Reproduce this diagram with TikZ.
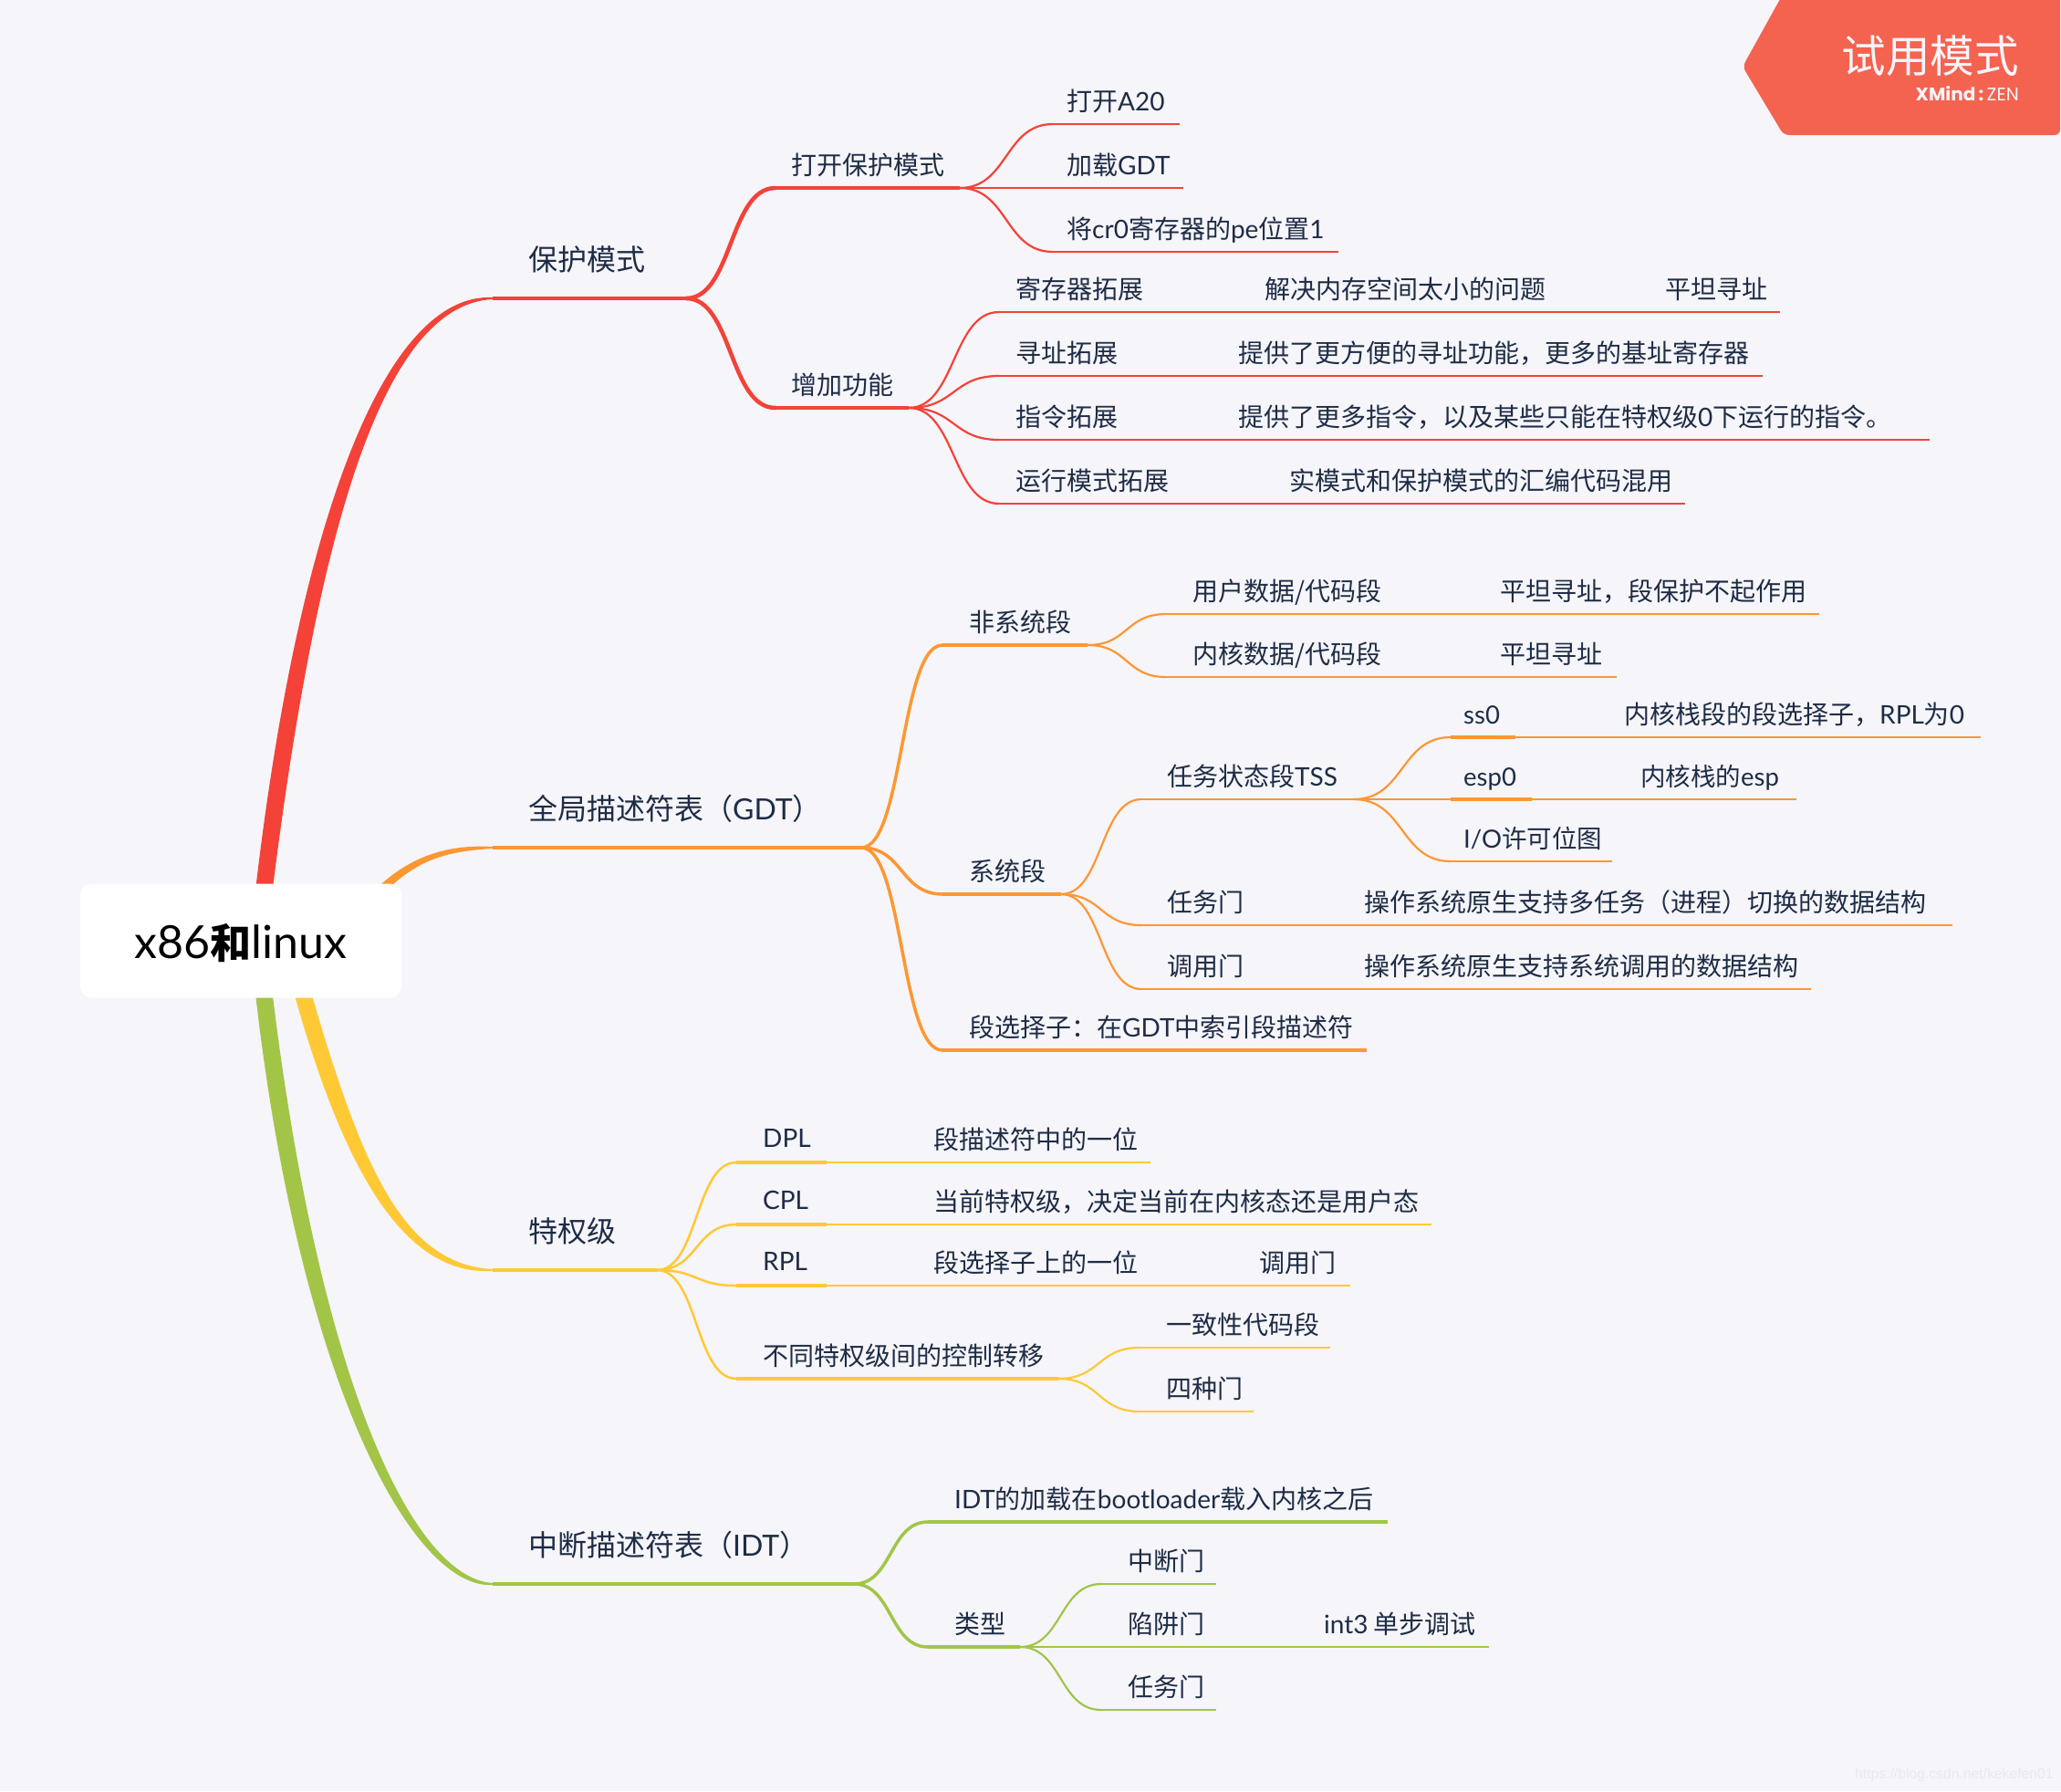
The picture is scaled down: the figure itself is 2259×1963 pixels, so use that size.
\documentclass[tikz,border=0pt]{standalone}
\usepackage{fontspec}
\usetikzlibrary{calc}
\setmainfont{Noto Sans CJK SC}
\newfontfamily\latf{Lato}
\newfontfamily\popf{Poppins}
\newfontfamily\wmf{Liberation Sans}
\newcommand{\lx}[1]{{\latf #1}}
\definecolor{bg}{HTML}{F5F5FA}
\definecolor{ink}{HTML}{1E2C45}
\definecolor{cred}{HTML}{F44238}
\definecolor{corg}{HTML}{FD9732}
\definecolor{cyel}{HTML}{FFC936}
\definecolor{cgrn}{HTML}{A2C547}
\definecolor{badge}{HTML}{F46350}
\definecolor{wm}{HTML}{E9E9EF}
\newcommand{\fs}[1]{\fontsize{#1pt}{#1pt}\selectfont}
\tikzset{
  lone/.style={anchor=base west,inner sep=0pt,text=ink,font=\fs{32},yshift=30.5pt},
  ltwo/.style={anchor=base west,inner sep=0pt,text=ink,font=\fs{28},yshift=14.5pt},
  lfive/.style={anchor=base west,inner sep=0pt,text=ink,font=\fs{27.5},yshift=14.5pt},
  lcap/.style={anchor=base west,inner sep=0pt,text=ink,font=\fs{28},yshift=16.5pt},
}
\newcommand{\seg}[6]{%
  \coordinate (#1-a) at (#4,#6);\coordinate (#1-b) at (#5,#6);
  \draw[#2,line width=#3pt] (#1-a) -- (#1-b);}
\newcommand{\lab}[5]{\node[#2] (#1) at (#3,#4) {#5};}
\newcommand{\conn}[4]{%
  \draw[#3,line width=#4pt] let \p1=(#1-b),\p2=(#2-a),\n1={0.52*(\x2-\x1)} in
    (#1-b) .. controls +(\n1,0) and +(-\n1,0) .. (#2-a);}
% tapered main branch: name, colour, x0, y0, c1x, c1y, c2x, w, sign (+1 rising, -1 falling)
\newcommand{\mainb}[9]{%
  \coordinate (#1-s) at (#3,#4);
  \fill[#2] let \p1=(#1-a) in
    ($(#1-s)+(-#8/2,0)$) .. controls ($(#5,#6)+(-#8/1.5,0)$) and ($(#7,\y1)+(0,#9*#8*0.38pt)$) .. ($(#1-a)+(0,#9*1pt)$)
    -- ($(#1-a)+(0,-#9*1pt)$) .. controls ($(#7,\y1)+(0,-#9*#8*0.38pt)$) and ($(#5,#6)+(#8/1.5,0)$) .. ($(#1-s)+(#8/2,0)$) -- cycle;}
\begin{document}
\begin{tikzpicture}[x=1pt,y=-1pt]
\useasboundingbox (0,0) rectangle (2259,1963);
\fill[bg] (0,0) rectangle (2259,1963);

% ---- first level segments
\seg{A}{cred}{4}{540}{752}{327}
\seg{B}{corg}{4}{540}{944}{929}
\seg{C}{cyel}{4}{540}{720}{1392}
\seg{D}{cgrn}{4}{540}{936}{1736}

\mainb{A}{cred}{283}{1031}{330}{600}{415}{18}{1}
\mainb{B}{corg}{395}{1000}{440}{945}{480}{12}{1}
\mainb{C}{cyel}{316}{1031}{378}{1265}{435}{18}{-1}
\mainb{D}{cgrn}{283}{1031}{330}{1500}{450}{18}{-1}

\lab{tA}{lone}{579}{327}{保护模式}
\lab{tB}{lone}{579}{929}{全局描述符表（\lx{GDT}）}
\lab{tC}{lone}{579}{1392}{特权级}
\lab{tD}{lone}{579}{1736}{中断描述符表（\lx{IDT}）}

% ---- red
\seg{A1}{cred}{4.5}{850}{1052}{206}
\seg{A2}{cred}{4.5}{850}{996}{447}
\conn{A}{A1}{cred}{4.5}\conn{A}{A2}{cred}{4.5}
\lab{tA1}{ltwo}{867}{206}{打开保护模式}
\lab{tA2}{ltwo}{867}{447}{增加功能}
\seg{A11}{cred}{2.2}{1154}{1293}{136}
\seg{A12}{cred}{2.2}{1062}{1297}{206}
\seg{A13}{cred}{2.2}{1154}{1467}{276}
\conn{A1}{A11}{cred}{2.2}\conn{A1}{A13}{cred}{2.2}
\draw[cred,line width=2.2pt] (A1-b) -- (A12-a);
\lab{tA11}{ltwo}{1169}{136}{打开\lx{A20}}
\lab{tA12}{ltwo}{1169}{206}{加载\lx{GDT}}
\lab{tA13}{ltwo}{1169}{276}{将\lx{cr0}寄存器的\lx{pe}位置\lx{1}}
\seg{A21}{cred}{2.2}{1095}{1951}{342}
\seg{A22}{cred}{2.2}{1095}{1932}{412}
\seg{A23}{cred}{2.2}{1095}{2115}{482}
\seg{A24}{cred}{2.2}{1095}{1847}{552}
\conn{A2}{A21}{cred}{2.2}\conn{A2}{A22}{cred}{2.2}\conn{A2}{A23}{cred}{2.2}\conn{A2}{A24}{cred}{2.2}
\lab{tA21}{ltwo}{1113}{342}{寄存器拓展}
\lab{tA22}{ltwo}{1113}{412}{寻址拓展}
\lab{tA23}{ltwo}{1113}{482}{指令拓展}
\lab{tA24}{ltwo}{1113}{552}{运行模式拓展}
\lab{tA211}{ltwo}{1386}{342}{解决内存空间太小的问题}
\lab{tA212}{ltwo}{1825}{342}{平坦寻址}
\lab{tA221}{ltwo}{1357}{412}{提供了更方便的寻址功能，更多的基址寄存器}
\lab{tA231}{ltwo}{1357}{482}{提供了更多指令，以及某些只能在特权级\lx{0}下运行的指令。}
\lab{tA241}{ltwo}{1413}{552}{实模式和保护模式的汇编代码混用}

% ---- orange
\seg{B1}{corg}{4}{1033}{1192}{707}
\seg{B2}{corg}{4}{1033}{1163}{980}
\seg{B3}{corg}{4.5}{1033}{1498}{1151}
\conn{B}{B1}{corg}{3.5}\conn{B}{B2}{corg}{3.5}\conn{B}{B3}{corg}{3.5}
\lab{tB1}{ltwo}{1062}{707}{非系统段}
\lab{tB2}{ltwo}{1062}{980}{系统段}
\lab{tB3}{ltwo}{1062}{1151}{段选择子：在\lx{GDT}中索引段描述符}
\seg{B11}{corg}{2.2}{1278}{1994}{673}
\seg{B12}{corg}{2.2}{1278}{1772}{742}
\conn{B1}{B11}{corg}{2.2}\conn{B1}{B12}{corg}{2.2}
\lab{tB11}{ltwo}{1307}{673}{用户数据/代码段}
\lab{tB12}{ltwo}{1307}{742}{内核数据/代码段}
\lab{tB111}{ltwo}{1644}{673}{平坦寻址，段保护不起作用}
\lab{tB121}{ltwo}{1644}{742}{平坦寻址}
\seg{B21}{corg}{2.5}{1251}{1484}{876}
\seg{B22}{corg}{2.2}{1251}{2140}{1014}
\seg{B23}{corg}{2.2}{1251}{1985}{1084}
\conn{B2}{B21}{corg}{2.2}\conn{B2}{B22}{corg}{2.2}\conn{B2}{B23}{corg}{2.2}
\lab{tB21}{ltwo}{1279}{876}{任务状态段\lx{TSS}}
\lab{tB22}{ltwo}{1279}{1014}{任务门}
\lab{tB23}{ltwo}{1279}{1084}{调用门}
\lab{tB221}{ltwo}{1495}{1014}{操作系统原生支持多任务（进程）切换的数据结构}
\lab{tB231}{ltwo}{1495}{1084}{操作系统原生支持系统调用的数据结构}
\seg{B211}{corg}{3.5}{1590}{1661}{808}
\seg{B212}{corg}{3.5}{1590}{1679}{876}
\seg{B213}{corg}{2.2}{1590}{1767}{944}
\conn{B21}{B211}{corg}{2.2}\conn{B21}{B213}{corg}{2.2}
\draw[corg,line width=2.2pt] (B21-b) -- (B212-a);
\seg{B2111}{corg}{2.2}{1661}{2171}{808}
\seg{B2121}{corg}{2.2}{1679}{1969}{876}
\lab{tB211}{lfive}{1604}{808}{\lx{ss0}}
\lab{tB212}{lfive}{1604}{876}{\lx{esp0}}
\lab{tB213}{lfive}{1604}{944}{\lx{I/O}许可位图}
\lab{tB2111}{ltwo}{1780}{808}{内核栈段的段选择子，\lx{RPL}为\lx{0}}
\lab{tB2121}{lfive}{1798}{876}{内核栈的\lx{esp}}

% ---- yellow
\seg{C1}{cyel}{3.5}{807}{906}{1274}
\seg{C2}{cyel}{3.5}{807}{906}{1342}
\seg{C3}{cyel}{3.5}{807}{906}{1409}
\seg{C4}{cyel}{4}{807}{1160}{1511}
\conn{C}{C1}{cyel}{2.5}\conn{C}{C2}{cyel}{2.5}\conn{C}{C3}{cyel}{2.5}\conn{C}{C4}{cyel}{2.5}
\seg{C11}{cyel}{2.2}{906}{1261}{1274}
\seg{C21}{cyel}{2.2}{906}{1569}{1342}
\seg{C31}{cyel}{2.2}{906}{1480}{1409}
\lab{tC1}{lcap}{836}{1274}{\lx{DPL}}
\lab{tC2}{lcap}{836}{1342}{\lx{CPL}}
\lab{tC3}{lcap}{836}{1409}{\lx{RPL}}
\lab{tC4}{ltwo}{836}{1511}{不同特权级间的控制转移}
\lab{tC11}{ltwo}{1023}{1274}{段描述符中的一位}
\lab{tC21}{ltwo}{1023}{1342}{当前特权级，决定当前在内核态还是用户态}
\lab{tC31}{ltwo}{1023}{1409}{段选择子上的一位}
\lab{tC311}{ltwo}{1380}{1409}{调用门}
\seg{C41}{cyel}{2.2}{1249}{1458}{1477}
\seg{C42}{cyel}{2.2}{1249}{1374}{1547}
\conn{C4}{C41}{cyel}{2.2}\conn{C4}{C42}{cyel}{2.2}
\lab{tC41}{ltwo}{1278}{1477}{一致性代码段}
\lab{tC42}{ltwo}{1278}{1547}{四种门}

% ---- green
\seg{D1}{cgrn}{4}{1017}{1521}{1668}
\seg{D2}{cgrn}{4}{1017}{1118}{1805}
\conn{D}{D1}{cgrn}{3.5}\conn{D}{D2}{cgrn}{3.5}
\lab{tD1}{ltwo}{1046}{1668}{\lx{IDT}的加载在\lx{bootloader}载入内核之后}
\lab{tD2}{ltwo}{1046}{1805}{类型}
\seg{D21}{cgrn}{2.2}{1207}{1333}{1736}
\seg{D22}{cgrn}{2.2}{1130}{1632}{1805}
\seg{D23}{cgrn}{2.2}{1207}{1333}{1874}
\conn{D2}{D21}{cgrn}{2.2}\conn{D2}{D23}{cgrn}{2.2}
\draw[cgrn,line width=2.2pt] (D2-b) -- (D22-a);
\lab{tD21}{ltwo}{1236}{1736}{中断门}
\lab{tD22}{ltwo}{1236}{1805}{陷阱门}
\lab{tD23}{ltwo}{1236}{1874}{任务门}
\lab{tD221}{ltwo}{1451}{1805}{\lx{int3} 单步调试}

% ---- root
\node[fill=white,rounded corners=12pt,minimum width=352pt,minimum height=125pt,inner sep=0pt,anchor=center] (root) at (264,1031) {};
\node[inner sep=0pt,anchor=base,text=black] (rootlabel) at (264,1050) {\fs{50}\latf x86{\fs{45}\rmfamily\bfseries 和}linux};

% ---- badge
\fill[badge,rounded corners=6pt] (1955,-8) -- (2258,-8) -- (2258,148) -- (1955,148) -- (1910,73) -- cycle;
\node[inner sep=0pt,anchor=base east,text=bg,font=\fs{48.5}] (trial) at (2213,79) {试用模式};
\node[inner sep=0pt,anchor=base east,text=bg,font=\fs{20}] (brand) at (2213,110) {\popf\textbf{XMind}\,\textbf{:}\,ZEN};

% ---- watermark
\node[inner sep=0pt,anchor=base west,text=wm,font=\fs{15.7}\wmf] (wmark) at (2033,1949) {https://blog.csdn.net/kekefen01};
\end{tikzpicture}
\end{document}
